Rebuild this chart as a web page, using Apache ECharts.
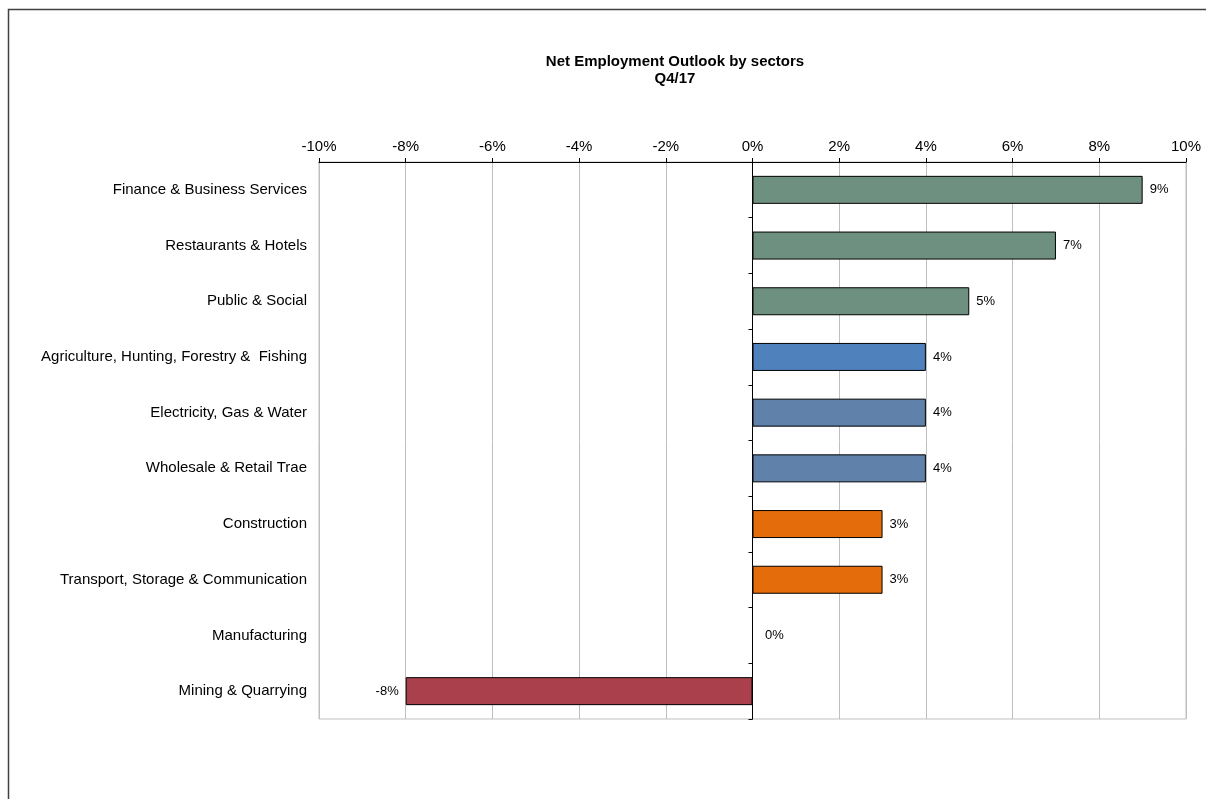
<!DOCTYPE html>
<html>
<head>
<meta charset="utf-8">
<script src="https://cdn.jsdelivr.net/npm/echarts@6/dist/echarts.min.js"></script>
<style>
html,body{margin:0;padding:0;background:#fff;}
#chart{width:1206px;height:799px;}
</style>
</head>
<body>
<div id="chart"></div>
<script>
const categories = [
  'Finance & Business Services',
  'Restaurants & Hotels',
  'Public & Social',
  'Agriculture, Hunting, Forestry &  Fishing',
  'Electricity, Gas & Water',
  'Wholesale & Retail Trae',
  'Construction',
  'Transport, Storage & Communication',
  'Manufacturing',
  'Mining & Quarrying'
];
const values = [9, 7, 5, 4, 4, 4, 3, 3, 0, -8];
const barColors = ['#6E9080', '#6E9080', '#6E9080', '#4F81BD', '#6081AA', '#6081AA', '#E46C0A', '#E46C0A', '#6E9080', '#AA404B'];
const titleLines = ['Net Employment Outlook by sectors', 'Q4/17'];
const xMin = -10, xMax = 10, xStep = 2;

const W = 1206, gridLeft = 319, gridRight = 20;
const gridW = W - gridLeft - gridRight;
const zeroOffset = -gridW * (0 - xMin) / (xMax - xMin);

const chart = echarts.init(document.getElementById('chart'));
const font = '"Liberation Sans", Arial, sans-serif';
chart.setOption({
  animation: false,
  backgroundColor: '#fff',
  title: {
    text: titleLines.join('\n'),
    left: 670,
    textAlign: 'center',
    top: 48,
    textStyle: {fontFamily: font, fontSize: 15, fontWeight: 'bold', color: '#000', lineHeight: 17}
  },
  graphic: [{
    type: 'rect',
    shape: {x: 8.5, y: 9.5, width: 1400, height: 1000},
    style: {fill: 'none', stroke: '#404040', lineWidth: 1.5},
    silent: true
  }],
  grid: {
    left: gridLeft, right: gridRight, top: 162, bottom: 80,
    show: true, borderColor: '#bfbfbf', borderWidth: 1
  },
  xAxis: {
    type: 'value', position: 'top', min: xMin, max: xMax, interval: xStep,
    axisLine: {show: true, lineStyle: {color: '#000', width: 1}},
    axisTick: {show: true, length: 4, lineStyle: {color: '#000'}},
    axisLabel: {formatter: '{value}%', fontFamily: font, fontSize: 15, color: '#000', margin: 8},
    splitLine: {show: true, lineStyle: {color: '#bfbfbf', width: 1}}
  },
  yAxis: [{
    type: 'category', data: categories, inverse: true, position: 'left',
    axisLine: {show: false, onZero: false}, axisTick: {show: false},
    axisLabel: {fontFamily: font, fontSize: 15, color: '#000', margin: 12}
  }, {
    type: 'category', data: categories, inverse: true, position: 'left',
    offset: zeroOffset,
    axisLine: {show: true, onZero: false, lineStyle: {color: '#000', width: 1}},
    axisTick: {show: true, length: 4, lineStyle: {color: '#000'}},
    axisLabel: {show: false}
  }],
  series: [{
    type: 'bar',
    yAxisIndex: 0,
    barWidth: 28,
    data: values.map((v, i) => ({
      value: v,
      itemStyle: {color: barColors[i], borderColor: '#000', borderWidth: 1},
      label: v < 0 ? {position: 'left'} : (v === 0 ? {position: 'right', distance: 12} : undefined)
    })),
    label: {
      show: true,
      position: 'right',
      distance: 7,
      formatter: p => p.value + '%',
      fontFamily: font, fontSize: 13, color: '#000'
    }
  }]
});
</script>
</body>
</html>
